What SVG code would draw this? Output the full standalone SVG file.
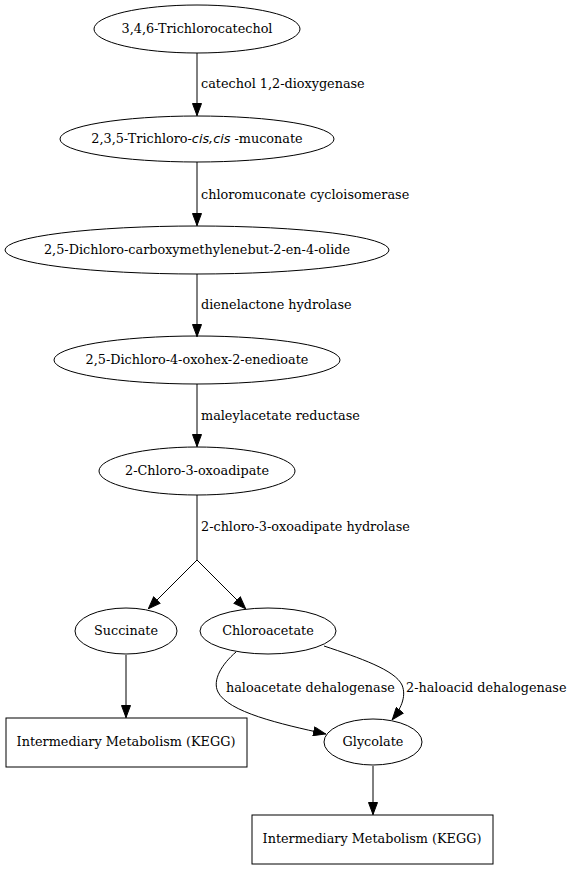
<svg xmlns="http://www.w3.org/2000/svg" width="574" height="869" viewBox="0 0 574 869">
<defs>
<marker id="ah" viewBox="0 0 13 10" refX="13" refY="5" markerWidth="13" markerHeight="10" markerUnits="userSpaceOnUse" orient="auto">
<path d="M0.5,0.5 L12.5,5 L0.5,9.5 z" fill="#000" stroke="#000" stroke-width="1"/>
</marker>
</defs>
<style>
text{font-family:"DejaVu Serif","Liberation Serif",serif;font-size:12.8px;fill:#000}
.n{text-anchor:middle}
.shape{fill:none;stroke:#000;stroke-width:1}
.e{fill:none;stroke:#000;stroke-width:1}
.ea{fill:none;stroke:#000;stroke-width:1;marker-end:url(#ah)}
.it{font-family:"DejaVu Sans","Liberation Sans",sans-serif;font-style:italic}
</style>
<rect width="574" height="869" fill="#fff"/>
<g id="connectors">
<path class="ea" d="M197,53 L197,116"/>
<text x="201" y="88">catechol 1,2-dioxygenase</text>
<path class="ea" d="M197,162 L197,226"/>
<text x="201" y="199">chloromuconate cycloisomerase</text>
<path class="ea" d="M197,274 L197,337"/>
<text x="201" y="309">dienelactone hydrolase</text>
<path class="ea" d="M197,384 L197,447"/>
<text x="201" y="420">maleylacetate reductase</text>
<path class="e" d="M197,495 L197,560"/>
<text x="201" y="531">2-chloro-3-oxoadipate hydrolase</text>
<path class="ea" d="M197,560 L148,609"/>
<path class="ea" d="M197,560 L246,609"/>
<path class="ea" d="M126,655 L126,718"/>
<path class="ea" d="M236,652 C222,664 212,680 218,692 C228,712 280,724 326,734"/>
<text x="226" y="692">haloacetate dehalogenase</text>
<path class="ea" d="M324,646 C360,658 395,670 402,685 C407,697 400,710 392,720"/>
<text x="406" y="692">2-haloacid dehalogenase</text>
<path class="ea" d="M373,766 L373,815"/>
</g>
<g id="n1"><ellipse class="shape" cx="197" cy="29" rx="103" ry="24"/><text class="n" x="197" y="33">3,4,6-Trichlorocatechol</text></g>
<g id="n2"><ellipse class="shape" cx="197" cy="139" rx="137" ry="23"/><text class="n" x="197" y="143">2,3,5-Trichloro-<tspan class="it">cis,cis</tspan> -muconate</text></g>
<g id="n3"><ellipse class="shape" cx="197" cy="250" rx="192" ry="24"/><text class="n" x="197" y="254">2,5-Dichloro-carboxymethylenebut-2-en-4-olide</text></g>
<g id="n4"><ellipse class="shape" cx="197" cy="360" rx="143" ry="24"/><text class="n" x="197" y="364">2,5-Dichloro-4-oxohex-2-enedioate</text></g>
<g id="n5"><ellipse class="shape" cx="197" cy="471" rx="98" ry="24"/><text class="n" x="197" y="475">2-Chloro-3-oxoadipate</text></g>
<g id="n6"><ellipse class="shape" cx="126" cy="631" rx="51" ry="23"/><text class="n" x="126" y="635">Succinate</text></g>
<g id="n7"><ellipse class="shape" cx="268" cy="631" rx="68" ry="23"/><text class="n" x="268" y="635">Chloroacetate</text></g>
<g id="n8"><rect class="shape" x="6" y="718" width="241" height="49"/><text class="n" x="126" y="746">Intermediary Metabolism (KEGG)</text></g>
<g id="n9"><ellipse class="shape" cx="373" cy="742" rx="49" ry="23"/><text class="n" x="373" y="746">Glycolate</text></g>
<g id="n10"><rect class="shape" x="252" y="815" width="241" height="49"/><text class="n" x="372" y="843">Intermediary Metabolism (KEGG)</text></g>
</svg>
